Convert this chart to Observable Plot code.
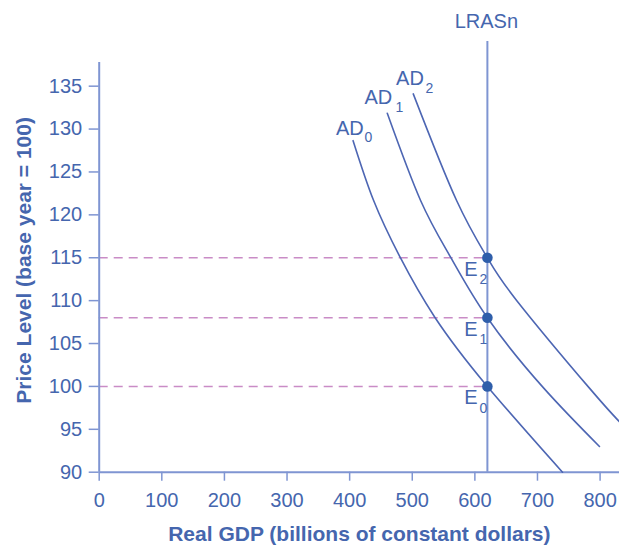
<!DOCTYPE html>
<html>
<head>
<meta charset="utf-8">
<script src="https://cdn.jsdelivr.net/npm/d3@7"></script>
<script src="https://cdn.jsdelivr.net/npm/@observablehq/plot@0.6"></script>
<style>
  html, body { margin: 0; padding: 0; background: #fff; }
  #chart svg { display: block; }
</style>
</head>
<body>
<div id="chart"></div>
<script>
// ---- data ----
const xTicks = [0, 100, 200, 300, 400, 500, 600, 700, 800];
const yTicks = [90, 95, 100, 105, 110, 115, 120, 125, 130, 135];

const ad0X = [405.5, 438.3, 480.6, 536, 620, 740];
const ad0Y = [128.65, 121.67, 115.06, 108.07, 100, 90];
const ad1X = [460.1, 513.3, 561.2, 620, 710, 799];
const ad1Y = [131.84, 121.67, 115.06, 108, 99.8, 93.0];
const ad2X = [501.6, 570.8, 620, 667, 783, 831.4];
const ad2Y = [134.1, 121.67, 115, 110, 99.8, 95.85];

const curveNames = ["AD", "AD", "AD"];
const curveSubs = ["0", "1", "2"];

const lrasX = 620;
const lrasTop = 140.2;
const lrasLabel = "LRASn";

const eqX = [620, 620, 620];
const eqY = [100, 108, 115];
const eqNames = ["E", "E", "E"];
const eqSubs = ["0", "1", "2"];

const xTitle = "Real GDP (billions of constant dollars)";
const yTitle = "Price Level (base year = 100)";

// ---- styles ----
const textColor = "#4566ae";
const axisColor = "#7f95d2";
const curveColor = "#4d66b3";
const dotColor = "#2f5eaa";
const dashColor = "#c98cc6";
const font = "'Liberation Sans', Arial, Helvetica, sans-serif";

const curves = [
  {x: ad0X, y: ad0Y, name: curveNames[0], sub: curveSubs[0], dx: 10.6, dy: -11.7, sdx: 11.3, sdy: -3.3},
  {x: ad1X, y: ad1Y, name: curveNames[1], sub: curveSubs[1], dx: 5, dy: -15.4, sdx: 8.3, sdy: -5.4},
  {x: ad2X, y: ad2Y, name: curveNames[2], sub: curveSubs[2], dx: 10.6, dy: -15, sdx: 12.3, sdy: -5.3}
];

const eqData = eqX.map((x, i) => ({x, y: eqY[i], name: eqNames[i], sub: eqSubs[i]}));

const marks = [];

// dashed guide lines
marks.push(Plot.ruleY(eqData, {y: "y", x1: 0, x2: "x", stroke: dashColor, strokeWidth: 1.5, strokeDasharray: "9,6"}));

// axes lines
marks.push(Plot.ruleY([90], {stroke: axisColor, strokeWidth: 2}));
marks.push(Plot.ruleX([0], {stroke: axisColor, strokeWidth: 2}));

// axes ticks and labels
marks.push(Plot.axisX(xTicks, {tickSize: 9, tickPadding: 12, fontSize: 20, stroke: axisColor, fill: textColor, strokeWidth: 1.5, label: null}));
marks.push(Plot.axisY(yTicks, {tickSize: 10, tickPadding: 7, fontSize: 20, stroke: axisColor, fill: textColor, strokeWidth: 1.5, label: null}));

// LRAS
marks.push(Plot.ruleX([lrasX], {y1: 90, y2: lrasTop, stroke: axisColor, strokeWidth: 2}));
marks.push(Plot.text([lrasLabel], {x: () => lrasX, frameAnchor: "top", dy: -40.5, dx: -1, lineAnchor: "middle", textAnchor: "middle", fontSize: 20, fill: textColor}));

// AD curves
for (const c of curves) {
  const pts = c.x.map((x, i) => ({x, y: c.y[i]}));
  marks.push(Plot.line(pts, {x: "x", y: "y", curve: "natural", stroke: curveColor, strokeWidth: 1.6}));
  marks.push(Plot.text([pts[0]], {x: "x", y: "y", text: () => c.name, dx: c.dx, dy: c.dy, textAnchor: "end", lineAnchor: "middle", fontSize: 20, fill: textColor}));
  marks.push(Plot.text([pts[0]], {x: "x", y: "y", text: () => c.sub, dx: c.sdx, dy: c.sdy, textAnchor: "start", lineAnchor: "middle", fontSize: 14, fill: textColor}));
}

// equilibrium points
marks.push(Plot.dot(eqData, {x: "x", y: "y", r: 5.3, fill: dotColor, stroke: "none"}));
marks.push(Plot.text(eqData, {x: "x", y: "y", text: "name", dx: -9.7, dy: 11.5, textAnchor: "end", lineAnchor: "middle", fontSize: 20, fill: textColor}));
marks.push(Plot.text(eqData, {x: "x", y: "y", text: "sub", dx: -8, dy: 22.2, textAnchor: "start", lineAnchor: "middle", fontSize: 14, fill: textColor}));

// axis titles
marks.push(Plot.text([xTitle], {frameAnchor: "bottom", dy: 62, lineAnchor: "middle", textAnchor: "middle", fontSize: 21, fontWeight: "bold", fill: textColor}));
marks.push(Plot.text([yTitle], {frameAnchor: "left", dx: -74.7, dy: -7, rotate: -90, lineAnchor: "middle", textAnchor: "middle", fontSize: 21, fontWeight: "bold", fill: textColor}));

const chart = Plot.plot({
  width: 619,
  height: 548,
  marginLeft: 98.7,
  marginRight: 0,
  marginTop: 62,
  marginBottom: 76.3,
  x: {domain: [0, 831], axis: null},
  y: {domain: [90, 137.76], axis: null},
  style: {fontFamily: font, color: textColor, background: "#fff", overflow: "visible"},
  marks
});
document.getElementById("chart").appendChild(chart);
</script>
</body>
</html>
